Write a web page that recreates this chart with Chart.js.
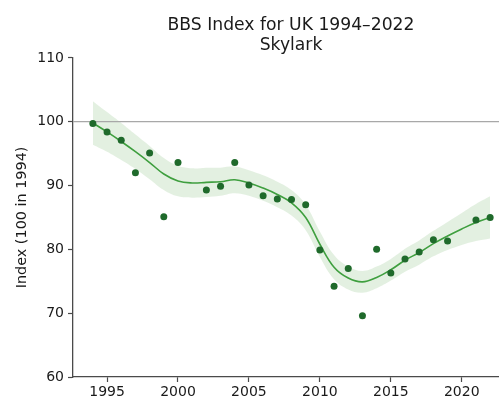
<!DOCTYPE html>
<html>
<head>
<meta charset="utf-8">
<script src="https://cdn.jsdelivr.net/npm/chart.js@4.4.1/dist/chart.umd.min.js"></script>
<style>
  html, body { margin: 0; padding: 0; background: #fff; overflow: hidden; }
  #wrap { width: 582px; height: 399px; }
</style>
</head>
<body>
<div id="wrap"><canvas id="c" width="582" height="399"></canvas></div>
<script>
// Breeding Bird Survey index, Skylark, UK (no survey in 2001 and 2020)
const years = [1994, 1995, 1996, 1997, 1998, 1999, 2000, 2001, 2002, 2003,
               2004, 2005, 2006, 2007, 2008, 2009, 2010, 2011, 2012, 2013,
               2014, 2015, 2016, 2017, 2018, 2019, 2020, 2021, 2022];
const annualIndex = [99.7, 98.4, 97.1, 92.0, 95.1, 85.1, 93.6, null, 89.3, 89.9,
                     93.6, 90.1, 88.4, 87.9, 87.8, 87.0, 79.9, 74.2, 77.0, 69.6,
                     80.0, 76.3, 78.5, 79.6, 81.5, 81.3, null, 84.6, 85.0];
const smoothedTrend = [99.8, 98.4, 96.9, 95.3, 93.6, 91.8, 90.7, 90.4, 90.5, 90.6,
                       90.9, 90.4, 89.6, 88.6, 87.3, 85.0, 80.8, 77.2, 75.5, 74.9,
                       75.6, 76.8, 78.3, 79.5, 80.9, 82.1, 83.2, 84.2, 85.0];
const ciLower = [96.4, 95.3, 94.0, 92.6, 91.0, 89.3, 88.3, 88.1, 88.2, 88.4,
                 88.8, 88.4, 87.6, 86.6, 85.3, 83.0, 78.8, 75.3, 73.7, 73.2,
                 73.9, 75.1, 76.5, 77.6, 78.9, 79.9, 80.7, 81.3, 81.7];
const ciUpper = [103.2, 101.5, 99.8, 98.0, 96.2, 94.3, 93.1, 92.7, 92.8, 92.8,
                 93.0, 92.4, 91.6, 90.6, 89.3, 87.0, 82.8, 79.1, 77.3, 76.6,
                 77.3, 78.5, 80.1, 81.4, 82.9, 84.3, 85.7, 87.1, 88.3];
const yearTicks = [1995, 2000, 2005, 2010, 2015, 2020];
const indexTicks = [60, 70, 80, 90, 100, 110];
const baseline = 100;
const xRange = [1992.6, 2023.4];

const pts = arr => years.map((yr, i) => ({ x: yr, y: arr[i] })).filter(p => p.y !== null);

const FONT = "'DejaVu Sans', 'Liberation Sans', sans-serif";
const AXIS = '#4a4a4a';
const SMOOTH = 0.4;
// The axes box spans 1992.6..2023.4 over 73..510 px; the canvas is wider so the
// title stays centred over that box, and the x scale simply carries on past it.
const AXES_LEFT = 73, AXES_RIGHT = 510;
const pxPerYear = (AXES_RIGHT - AXES_LEFT) / (xRange[1] - xRange[0]);

new Chart(document.getElementById('c'), {
  type: 'line',
  data: {
    datasets: [
      {
        label: 'Annual index',
        data: pts(annualIndex),
        showLine: false,
        pointRadius: 3.5,
        pointBackgroundColor: '#1f6a2b',
        pointBorderWidth: 0,
        order: 0
      },
      {
        label: 'Smoothed trend',
        data: pts(smoothedTrend),
        borderColor: '#3f9f3f',
        borderWidth: 1.6,
        pointRadius: 0,
        tension: SMOOTH,
        fill: false,
        order: 1
      },
      {
        label: 'Baseline',
        data: [{ x: xRange[0], y: baseline }, { x: xRange[1], y: baseline }],
        borderColor: '#a8a8a8',
        borderWidth: 1.2,
        pointRadius: 0,
        fill: false,
        order: 2
      },
      {
        label: 'Upper limit',
        data: pts(ciUpper),
        borderWidth: 0,
        borderColor: 'rgba(0,0,0,0)',
        backgroundColor: 'rgba(70,155,55,0.15)',
        pointRadius: 0,
        tension: SMOOTH,
        fill: '+1',
        order: 3
      },
      {
        label: 'Lower limit',
        data: pts(ciLower),
        borderWidth: 0,
        borderColor: 'rgba(0,0,0,0)',
        pointRadius: 0,
        tension: SMOOTH,
        fill: false,
        order: 4
      }
    ]
  },
  options: {
    responsive: false,
    animation: false,
    devicePixelRatio: 1,
    layout: { padding: 0 },
    plugins: {
      legend: { display: false },
      tooltip: { enabled: false },
      title: {
        display: true,
        text: ['BBS Index for UK 1994\u20132022', 'Skylark'],
        color: '#1a1a1a',
        font: { family: FONT, size: 17.2, weight: 'normal', lineHeight: 1.13 },
        padding: { top: 16, bottom: 3 }
      }
    },
    scales: {
      x: {
        type: 'linear',
        bounds: 'data',
        afterBuildTicks: s => {
          s.ticks = yearTicks.map(v => ({ value: v }));
          s.min = xRange[0];
          s.max = xRange[0] + s.width / pxPerYear;
        },
        afterFit: s => { s.height = 22; },
        ticks: {
          color: '#1a1a1a',
          font: { family: FONT, size: 14 },
          padding: 2,
          maxRotation: 0,
          callback: v => String(v)
        },
        grid: { drawOnChartArea: false, drawTicks: true, tickLength: 5, color: AXIS, tickWidth: 1.2 },
        border: { display: true, color: AXIS, width: 1.3 }
      },
      y: {
        min: 60,
        max: 110,
        afterBuildTicks: s => { s.ticks = indexTicks.map(v => ({ value: v })); },
        afterFit: s => { s.width = AXES_LEFT; },
        ticks: {
          color: '#1a1a1a',
          font: { family: FONT, size: 14 },
          padding: 4,
          callback: v => String(v)
        },
        title: {
          display: true,
          text: 'Index (100 in 1994)',
          color: '#1a1a1a',
          font: { family: FONT, size: 14.4 },
          padding: { top: 14, bottom: 0 }
        },
        grid: { drawOnChartArea: false, drawTicks: true, tickLength: 5, color: AXIS, tickWidth: 1.2 },
        border: { display: true, color: AXIS, width: 1.3 }
      }
    }
  }
});
</script>
</body>
</html>
